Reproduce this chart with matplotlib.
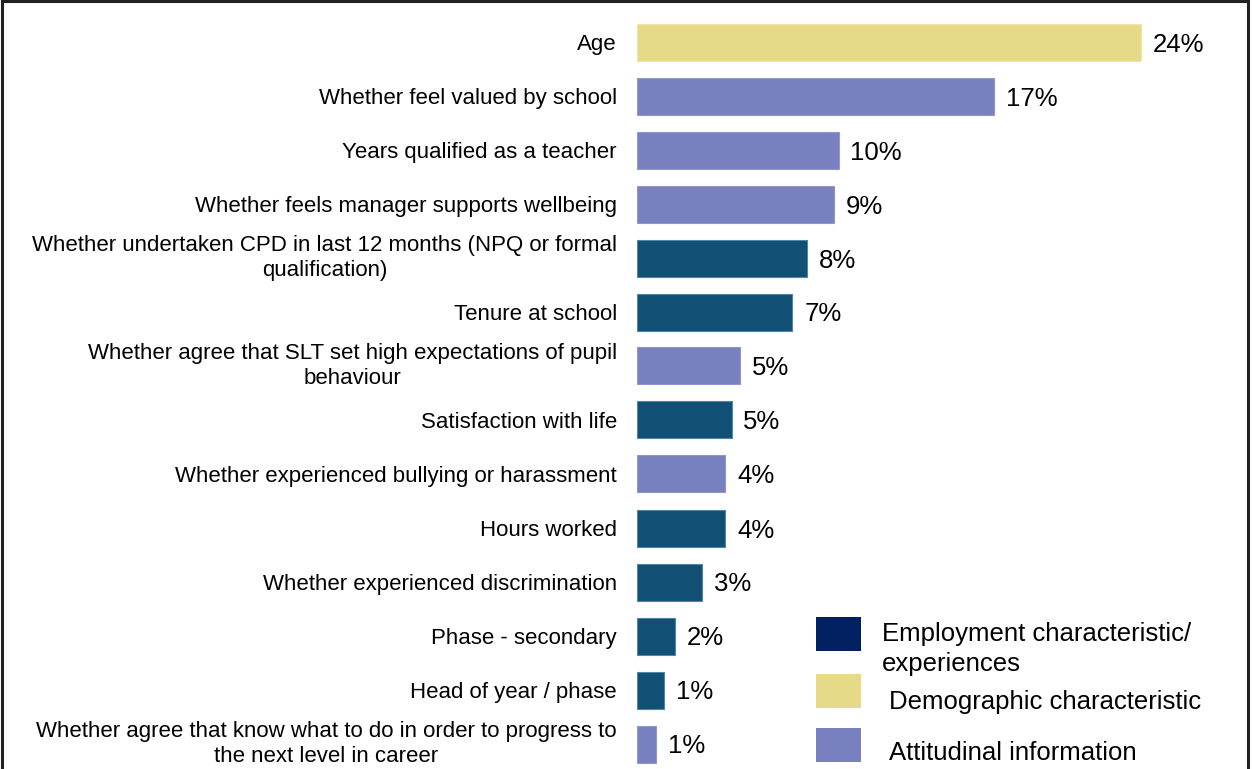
import matplotlib
matplotlib.use("Agg")
import matplotlib.pyplot as plt
from matplotlib.patches import Rectangle

plt.rcParams['font.family'] = ['Liberation Sans', 'DejaVu Sans']

categories = [
    "Age",
    "Whether feel valued by school",
    "Years qualified as a teacher",
    "Whether feels manager supports wellbeing",
    "Whether undertaken CPD in last 12 months (NPQ or formal\nqualification)",
    "Tenure at school",
    "Whether agree that SLT set high expectations of pupil\nbehaviour",
    "Satisfaction with life",
    "Whether experienced bullying or harassment",
    "Hours worked",
    "Whether experienced discrimination",
    "Phase - secondary",
    "Head of year / phase",
    "Whether agree that know what to do in order to progress to\nthe next level in career",
]
values = [24.0, 17.0, 9.6, 9.4, 8.1, 7.4, 4.9, 4.5, 4.2, 4.2, 3.1, 1.8, 1.3, 0.9]
value_labels = ["24%", "17%", "10%", "9%", "8%", "7%", "5%", "5%", "4%", "4%", "3%", "2%", "1%", "1%"]
groups = ["Demographic", "Attitudinal", "Attitudinal", "Attitudinal", "Employment", "Employment",
          "Attitudinal", "Employment", "Attitudinal", "Employment", "Employment", "Employment",
          "Employment", "Attitudinal"]

bar_colors = {"Demographic": "#E6D988", "Attitudinal": "#7880BF", "Employment": "#124F75"}
edge_colors = {"Demographic": "#EFE6A8", "Attitudinal": "#9097CC", "Employment": "#4F86A8"}
legend_items = [("Employment characteristic/\nexperiences", "#00205F"),
                ("Demographic characteristic", "#E6D988"),
                ("Attitudinal information", "#7880BF")]

W, H = 1252, 769
fig = plt.figure(figsize=(W / 100, H / 100), dpi=100)

def fx(px):
    return px / W

def fy(py):
    return 1 - py / H

ax_left, ax_right = 637, 1248
ax = fig.add_axes([fx(ax_left), 0, fx(ax_right - ax_left), 1])
px_per_unit = 21.0
ax.set_xlim(0, (ax_right - ax_left) / px_per_unit)
row_px = 54.0
first_center = 42.0
ax.set_ylim((H - first_center) / row_px, -first_center / row_px)

for i, (v, g) in enumerate(zip(values, groups)):
    ax.barh(i, v, height=37 / row_px, color=bar_colors[g], edgecolor=edge_colors[g], linewidth=0.8)
    ax.annotate(value_labels[i], xy=(v, i), xytext=(8.5, 0), textcoords="offset points",
                ha="left", va="center_baseline", fontsize=18.5, color="#000000")
    two_line = "\n" in categories[i]
    ax.annotate(categories[i], xy=(0, i), xytext=(-14.5, 0),
                textcoords="offset points", ha="right",
                va="center" if two_line else "center_baseline", multialignment="center",
                fontsize=16, linespacing=1.28, annotation_clip=False)

ax.set_yticks([])
ax.set_xticks([])
for s in ax.spines.values():
    s.set_visible(False)
ax.patch.set_alpha(0)

# legend (manual)
patch_x, patch_w, patch_h = 816, 45, 34
patch_tops = [617, 674, 728]
text_pos = [(882, 649), (889, 702), (889, 753)]
for (label, col), top, (tx, ty) in zip(legend_items, patch_tops, text_pos):
    fig.add_artist(Rectangle((fx(patch_x), fy(top + patch_h)), fx(patch_w), patch_h / H,
                             transform=fig.transFigure, facecolor=col, edgecolor="none"))
    fig.text(fx(tx), fy(ty), label, fontsize=18.5, ha="left", va="center", linespacing=1.35)

# outer border
fig.add_artist(Rectangle((fx(1.5), fy(H + 20)), fx(1246.5), (H + 18.5) / H,
                         transform=fig.transFigure, facecolor="none", edgecolor="#222222",
                         linewidth=2.2, clip_on=False))

fig.savefig("out.png", dpi=100)
